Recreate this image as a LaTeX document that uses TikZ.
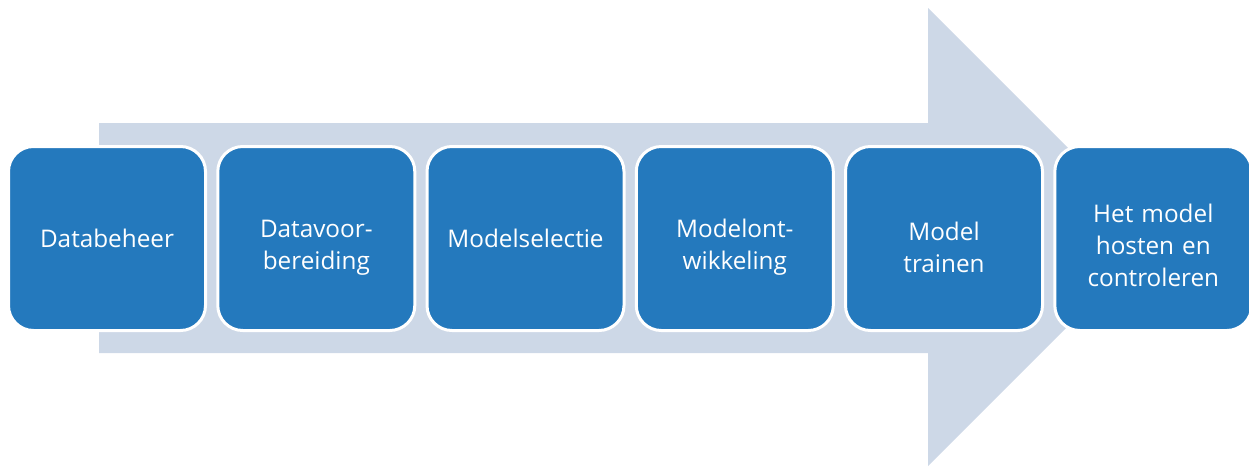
\documentclass[tikz,border=0pt]{standalone}
\usepackage{fontspec}
\setmainfont{Open Sans}
\definecolor{boxblue}{RGB}{36,121,189}
\definecolor{arrowblue}{RGB}{205,216,231}
\tikzset{
  stepbox/.style={draw=white, line width=3pt, fill=boxblue, rounded corners=25pt,
    minimum width=197pt, minimum height=184pt, inner sep=0pt},
  steptext/.style={text=white, inner sep=0pt,
    align=center, text width=180pt, font=\fontsize{24.3}{32}\selectfont},
  bigarrow/.style={fill=arrowblue, draw=none}
}
\begin{document}
\begin{tikzpicture}[x=1pt,y=-1pt]
\useasboundingbox (0,0) rectangle (1249,466);
\coordinate (a1) at (99,123);
\coordinate (a2) at (928,123);
\coordinate (a3) at (928,8);
\coordinate (a4) at (1157,237);
\coordinate (a5) at (928,466);
\coordinate (a6) at (928,353);
\coordinate (a7) at (99,353);
\fill[bigarrow] (a1) -- (a2) -- (a3) -- (a4) -- (a5) -- (a6) -- (a7) -- cycle;
\node[stepbox] (s1) at (107,238.5) {};
\node[stepbox] (s2) at (316.3,238.5) {};
\node[stepbox] (s3) at (525.5,238.5) {};
\node[stepbox] (s4) at (734.8,238.5) {};
\node[stepbox] (s5) at (944,238.5) {};
\node[stepbox] (s6) at (1153.3,238.5) {};
\node[steptext] (t1) at (s1.center) {Databeheer};
\node[steptext] (t2) at ([yshift=-9pt]s2.center) {Datavoor-\\bereiding};
\node[steptext] (t3) at (s3.center) {Modelselectie};
\node[steptext] (t4) at ([yshift=-9pt]s4.center) {Modelont-\\wikkeling};
\node[steptext] (t5) at ([yshift=-9pt]s5.center) {Model\\trainen};
\node[steptext] (t6) at ([yshift=-7pt]s6.center) {Het model\\hosten en\\controleren};
\end{tikzpicture}
\end{document}
